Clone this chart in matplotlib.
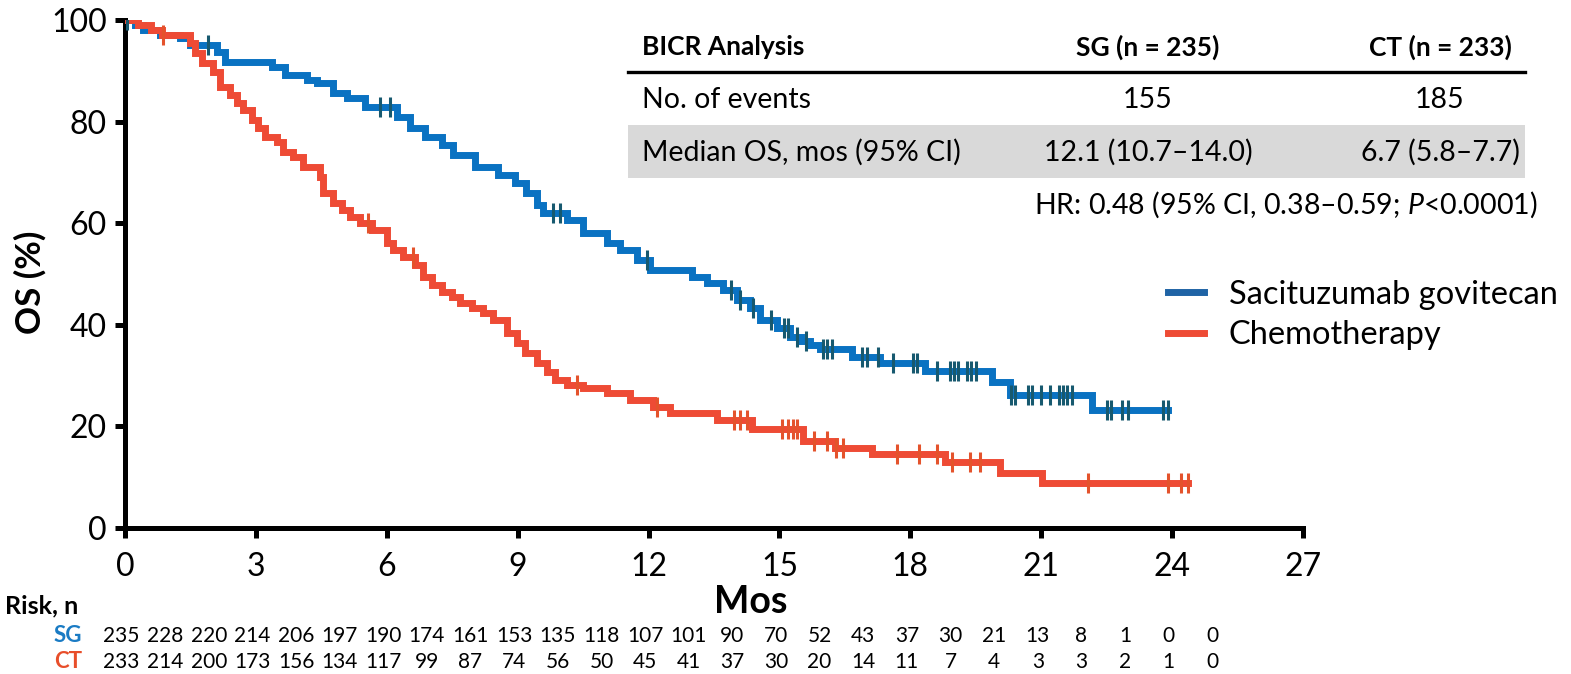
import numpy as np
import matplotlib
matplotlib.use("Agg")
import matplotlib.pyplot as plt
from matplotlib.lines import Line2D
from matplotlib.patches import Rectangle
from matplotlib.transforms import blended_transform_factory

FONT = "Lato"
plt.rcParams["font.family"] = [FONT, "DejaVu Sans"]
plt.rcParams["mathtext.fontset"] = "custom"
plt.rcParams["mathtext.rm"] = FONT
plt.rcParams["mathtext.it"] = FONT + ":italic"
plt.rcParams["mathtext.bf"] = FONT + ":bold"

# KM step points (time in months, OS %)
sg_t = [0.23, 0.41, 0.80, 1.26, 1.50, 2.10, 2.30, 3.37, 3.67, 4.17, 4.40, 4.77,
        5.09, 5.50, 6.23, 6.53, 6.88, 7.27, 7.52, 8.02, 8.55, 8.94, 9.20, 9.44,
        9.58, 10.13, 10.50, 11.05, 11.35, 11.73, 12.03, 13.00, 13.33, 13.70,
        14.03, 14.33, 14.55, 14.94, 15.24, 15.50, 15.70, 15.93, 16.66, 17.30,
        18.34, 19.87, 20.28, 22.16]
sg_s = [99.0, 98.0, 97.0, 96.5, 95.0, 93.7, 91.7, 90.7, 89.2, 88.2, 87.6, 85.6,
        84.6, 82.9, 80.9, 78.7, 77.0, 75.4, 73.4, 71.1, 69.5, 67.9, 66.0, 63.6,
        62.0, 60.6, 58.1, 56.1, 54.7, 52.8, 50.8, 49.4, 48.2, 46.9, 44.9, 43.3,
        41.0, 39.4, 37.6, 36.8, 36.0, 35.2, 33.7, 32.5, 30.9, 28.8, 26.2, 23.2]
sg_end = 23.9
sg_cens = [0.05, 1.90, 5.85, 6.07, 9.80, 9.97, 11.96, 13.90, 14.10, 14.40, 14.80,
           15.10, 15.20, 15.40, 15.60, 16.00, 16.10, 16.20, 16.90, 17.00, 17.25,
           17.60, 18.06, 18.15, 18.60, 18.90, 19.00, 19.10, 19.30, 19.40, 19.50,
           20.30, 20.40, 20.70, 20.80, 21.00, 21.20, 21.40, 21.50, 21.60, 21.70,
           22.50, 22.60, 22.85, 23.00, 23.80, 23.90]

ct_t = [0.30, 0.60, 0.85, 1.49, 1.60, 1.76, 2.02, 2.18, 2.41, 2.57, 2.70, 2.91,
        3.05, 3.21, 3.48, 3.62, 3.85, 4.08, 4.47, 4.54, 4.77, 4.97, 5.16, 5.39,
        5.66, 6.00, 6.14, 6.37, 6.65, 6.83, 7.04, 7.27, 7.49, 7.68, 7.95, 8.20,
        8.43, 8.76, 8.98, 9.17, 9.44, 9.67, 9.86, 10.13, 10.50, 11.05, 11.57,
        12.10, 12.49, 13.57, 14.37, 15.54, 16.27, 17.12, 18.79, 20.05, 21.02]
ct_s = [99.0, 98.0, 97.0, 95.5, 93.5, 91.5, 89.8, 86.8, 85.2, 83.7, 82.3, 80.3,
        78.7, 77.0, 76.0, 74.0, 73.0, 71.0, 69.0, 66.0, 64.0, 62.6, 61.2, 60.0,
        58.7, 56.1, 54.7, 53.4, 51.8, 49.4, 47.8, 46.5, 45.5, 44.3, 43.3, 42.3,
        41.0, 38.4, 36.4, 34.4, 32.5, 30.7, 29.1, 28.1, 27.6, 26.6, 25.2, 23.9,
        22.6, 21.3, 19.5, 17.2, 15.7, 14.6, 13.0, 10.8, 8.9]
ct_end = 24.36
ct_cens = [0.87, 5.57, 6.60, 10.36, 12.20, 13.95, 14.10, 14.25, 15.06, 15.20,
           15.30, 15.40, 15.80, 16.10, 16.30, 16.45, 17.70, 18.20, 18.60, 18.95,
           19.37, 19.60, 22.07, 23.90, 24.20, 24.36]

risk_months = list(range(26))
risk_sg = [235, 228, 220, 214, 206, 197, 190, 174, 161, 153, 135, 118, 107, 101,
           90, 70, 52, 43, 37, 30, 21, 13, 8, 1, 0, 0]
risk_ct = [233, 214, 200, 173, 156, 134, 117, 99, 87, 74, 56, 50, 45, 41, 37,
           30, 20, 14, 11, 7, 4, 3, 3, 2, 1, 0]

labels = ["Sacituzumab govitecan", "Chemotherapy"]
tbl_head = ["BICR Analysis", "SG (n = 235)", "CT (n = 233)"]
tbl_rows = [["No. of events", "155", "185"],
            ["Median OS, mos (95% CI)", "12.1 (10.7\u201314.0)", "6.7 (5.8\u20137.7)"]]
hr_text = "HR: 0.48 (95% CI, 0.38\u20130.59; $P$<0.0001)"

SG_C, SG_CEN, SG_LEG = "#0A72C2", "#17596F", "#1F63A5"
CT_C, CT_CEN = "#EE4B35", "#E4532C"

W, H = 1571, 674
fig = plt.figure(figsize=(W / 100, H / 100), dpi=100)
ax = fig.add_axes([125 / W, 1 - 528 / H, 1178 / W, 508 / H])
ax.patch.set_visible(False)


def km(ts, ss, end):
    t = np.r_[0.0, ts, end]
    s = np.r_[100.0, ss, ss[-1]]
    return t, s


def cens_y(t, s, c):
    i = np.searchsorted(t, c, side="right") - 1
    return s[np.clip(i, 0, len(s) - 1)]


for ts, ss, end, cens, col, ccol in [(sg_t, sg_s, sg_end, sg_cens, SG_C, SG_CEN),
                                      (ct_t, ct_s, ct_end, ct_cens, CT_C, CT_CEN)]:
    t, s = km(ts, ss, end)
    ax.step(t, s, where="post", color=col, lw=5, solid_joinstyle="miter", zorder=3)
    c = np.array(cens)
    ax.plot(c, cens_y(t, s, c), ls="none", marker="|", ms=15, mew=2.2,
            color=ccol, zorder=4)

ax.set_xlim(0, 27)
ax.set_ylim(0, 100)
ax.set_xticks(np.arange(0, 28, 3))
ax.set_yticks(np.arange(0, 101, 20))
for sp in ["top", "right"]:
    ax.spines[sp].set_visible(False)
for sp in ["left", "bottom"]:
    ax.spines[sp].set_linewidth(3.6)
ax.tick_params(direction="out", length=7, width=3.6, labelsize=23, pad=6)
ax.tick_params(axis="x", pad=10)

fig.text(30 / W, 1 - 282 / H, "OS (%)", rotation=90, ha="center", va="center",
         fontsize=25, fontweight="bold")
fig.text(751 / W, 1 - 602 / H, "Mos", ha="center", va="center",
         fontsize=27, fontweight="bold")

# number at risk
tr = blended_transform_factory(ax.transData, fig.transFigure)
fig.text(5 / W, 1 - 606 / H, "Risk, n", ha="left", va="center", fontsize=18,
         fontweight="bold")
fig.text(82 / W, 1 - 636 / H, "SG", ha="right", va="center", fontsize=16,
         fontweight="bold", color="#1A7BC4")
fig.text(82 / W, 1 - 662 / H, "CT", ha="right", va="center", fontsize=16,
         fontweight="bold", color="#E84E2A")
for m, a, b in zip(risk_months, risk_sg, risk_ct):
    ax.text(m - 0.08, 1 - 636 / H, str(a), transform=tr, ha="center", va="center",
            fontsize=15)
    ax.text(m - 0.08, 1 - 662 / H, str(b), transform=tr, ha="center", va="center",
            fontsize=15)

# legend
handles = [Line2D([], [], color=SG_LEG, lw=5), Line2D([], [], color=CT_C, lw=5)]
fig.legend(handles, labels, loc="center left", bbox_to_anchor=(1152 / W, 1 - 315 / H),
           frameon=False, fontsize=23.5, handlelength=1.1, handletextpad=0.75,
           labelspacing=0.33, borderpad=0)

# summary table
x0, x1 = 628 / W, 1525 / W
cx = [642 / W, 1148 / W, 1440 / W]
fig.add_artist(Rectangle((x0, 1 - 178 / H), x1 - x0, 53 / H, transform=fig.transFigure,
                         facecolor="#D9D9D9", edgecolor="none", zorder=0.5))
fig.add_artist(Line2D([x0, x1], [1 - 72 / H, 1 - 72 / H], transform=fig.transFigure,
                      color="black", lw=2.4))
ys = [47, 100, 152]
for j, txt in enumerate(tbl_head):
    fig.text(cx[j], 1 - ys[0] / H, txt, ha="left" if j == 0 else "center",
             va="center", fontsize=19, fontweight="bold")
for i, row in enumerate(tbl_rows):
    for j, txt in enumerate(row):
        fig.text(cx[j], 1 - ys[i + 1] / H, txt, ha="left" if j == 0 else "center",
                 va="center", fontsize=20.5)
fig.text(1537 / W, 1 - 205 / H, hr_text, ha="right", va="center", fontsize=20.5)

fig.savefig("out.png", dpi=100)
